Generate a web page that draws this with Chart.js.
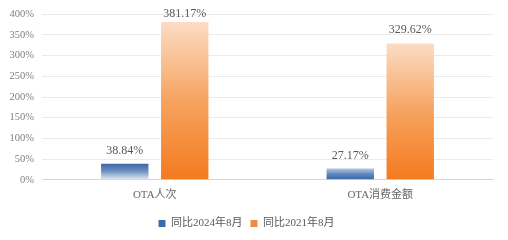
<!DOCTYPE html>
<html><head><meta charset="utf-8">
<script src="https://cdn.jsdelivr.net/npm/chart.js@4/dist/chart.umd.min.js"></script>
<style>html,body{margin:0;padding:0;background:#fff}#w{width:508px;height:240px}</style>
</head><body><div id="w"><canvas id="c" width="508" height="240"></canvas></div>
<script>
const categories = ["OTA人次", "OTA消费金额"];
const seriesNames = ["同比2024年8月", "同比2021年8月"];
const vs2024 = [38.84, 27.17];
const vs2021 = [381.17, 329.62];
const yTicks = [0, 50, 100, 150, 200, 250, 300, 350, 400];

const FONT = "'Liberation Serif','Noto Sans CJK SC',serif";

function grad(ctx, kind) {
  const chart = ctx.chart;
  const ys = chart.scales && chart.scales.y;
  if (!ys || ctx.type !== 'data') return kind === 'blue' ? '#3d6aa8' : '#f47c20';
  const v = ctx.raw;
  const top = ys.getPixelForValue(v), bot = ys.getPixelForValue(0);
  if (!isFinite(top) || !isFinite(bot) || top === bot) return kind === 'blue' ? '#3d6aa8' : '#f47c20';
  const g = chart.ctx.createLinearGradient(0, top, 0, bot);
  if (kind === 'blue') {
    if (ctx.dataIndex === 0) { g.addColorStop(0, '#3b67a6'); g.addColorStop(0.45, '#6b8fc2'); g.addColorStop(1, '#e4eaf3'); }
    else { g.addColorStop(0, '#b4c7e3'); g.addColorStop(0.5, '#5f86bf'); g.addColorStop(1, '#3b67a6'); }
  } else {
    g.addColorStop(0, '#fcdcc4'); g.addColorStop(0.5, '#f6a35f'); g.addColorStop(1, '#f47a1e');
  }
  return g;
}

const labelPlugin = {
  id: 'vlabels',
  afterDatasetsDraw(chart) {
    const c = chart.ctx;
    c.save();
    c.font = "12px " + FONT;
    c.fillStyle = '#595959';
    c.textAlign = 'center';
    c.textBaseline = 'alphabetic';
    chart.data.datasets.forEach((ds, di) => {
      const meta = chart.getDatasetMeta(di);
      meta.data.forEach((el, i) => {
        const txt = ds.data[i].toFixed(2) + '%';
        let y = el.y - 10;
        if (y < 17) y = 17;
        c.fillText(txt, el.x, y);
      });
    });
    c.restore();
  }
};

new Chart(document.getElementById('c'), {
  type: 'bar',
  data: {
    labels: categories,
    datasets: [
      { label: seriesNames[0], data: vs2024, backgroundColor: (ctx) => grad(ctx, 'blue') },
      { label: seriesNames[1], data: vs2021, backgroundColor: (ctx) => grad(ctx, 'orange') }
    ]
  },
  options: {
    responsive: false,
    animation: false,
    devicePixelRatio: 1,
    datasets: { bar: { categoryPercentage: 0.532, barPercentage: 0.79 } },
    layout: { padding: { left: 0, right: 15, top: 12, bottom: 1 } },
    plugins: {
      legend: {
        position: 'bottom',
        labels: {
          boxWidth: 7, boxHeight: 7, padding: 8,
          color: '#595959',
          font: { family: FONT, size: 11 },
          generateLabels(chart) {
            const cols = ['#3d6aa8', '#f28a3a'];
            return chart.data.datasets.map((d, i) => ({
              text: d.label, fillStyle: cols[i], strokeStyle: cols[i], lineWidth: 0,
              datasetIndex: i, hidden: false, fontColor: '#595959'
            }));
          }
        }
      },
      tooltip: { enabled: false }
    },
    scales: {
      x: {
        afterFit(s) { s.height += 7; },
        grid: { display: false },
        border: { display: true, color: '#d6d6d6', width: 1 },
        ticks: { color: '#666', font: { family: FONT, size: 11 }, padding: 1 }
      },
      y: {
        min: 0, max: 400,
        afterFit(s) { s.width = 42; },
        afterBuildTicks(s) { s.ticks = yTicks.map(v => ({ value: v })); },
        grid: { color: '#ebebeb', drawTicks: false },
        border: { display: false },
        ticks: { color: '#7f7f7f', padding: 8, font: { family: FONT, size: 10.5 }, callback: v => v + '%' }
      }
    }
  },
  plugins: [labelPlugin]
});
</script></body></html>
